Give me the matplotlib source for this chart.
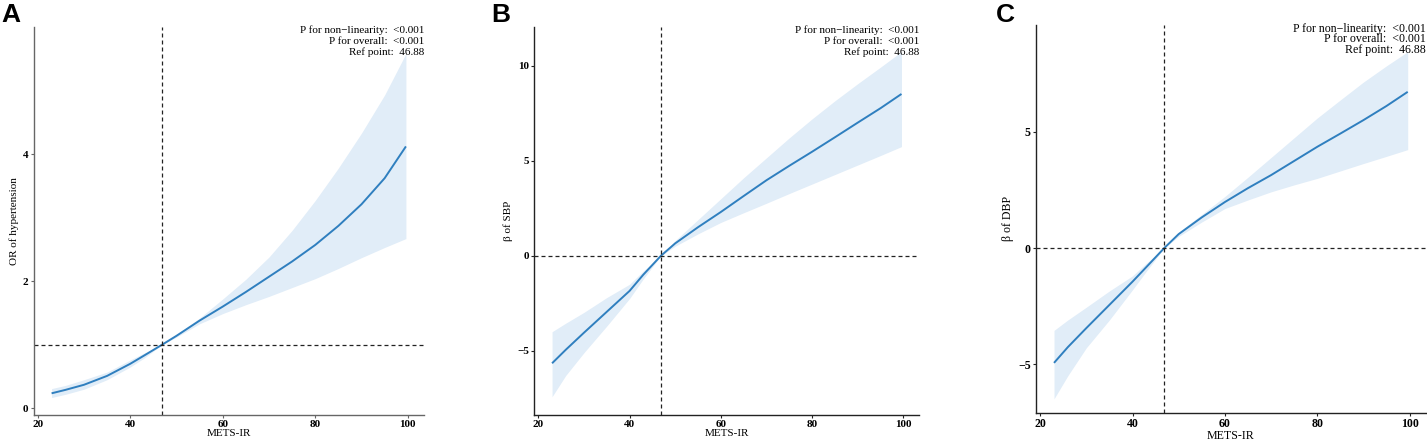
import matplotlib
import matplotlib.pyplot as plt

matplotlib.use("Agg")

# values
mets_ir = [23, 26, 30, 35, 40, 43, 46.88, 50, 55, 60, 65, 70, 75, 80, 85, 90, 95, 99.6]
ref_point = 46.88

or_fit = [0.236, 0.29, 0.37, 0.51, 0.70, 0.83, 1.0, 1.14, 1.38, 1.60, 1.83, 2.07, 2.31, 2.57, 2.87, 3.21, 3.62, 4.12]
or_upper = [0.31, 0.36, 0.45, 0.57, 0.76, 0.87, 1.0, 1.16, 1.42, 1.72, 2.03, 2.38, 2.80, 3.27, 3.78, 4.33, 4.93, 5.58]
or_lower = [0.17, 0.22, 0.30, 0.45, 0.65, 0.79, 1.0, 1.12, 1.33, 1.49, 1.63, 1.76, 1.90, 2.04, 2.20, 2.37, 2.53, 2.67]

sbp_fit = [-5.66, -4.95, -4.05, -2.95, -1.85, -1.0, 0, 0.65, 1.5, 2.3, 3.14, 3.97, 4.73, 5.47, 6.23, 7.0, 7.76, 8.51]
sbp_upper = [-4.0, -3.55, -2.98, -2.2, -1.5, -0.8, 0, 0.8, 1.9, 3.0, 4.1, 5.15, 6.2, 7.2, 8.15, 9.05, 9.92, 10.74]
sbp_lower = [-7.42, -6.3, -5.1, -3.7, -2.25, -1.22, 0, 0.5, 1.15, 1.75, 2.26, 2.76, 3.27, 3.77, 4.27, 4.77, 5.27, 5.74]

dbp_fit = [-4.95, -4.27, -3.45, -2.45, -1.45, -0.82, 0, 0.6, 1.32, 1.98, 2.58, 3.14, 3.75, 4.36, 4.93, 5.51, 6.12, 6.73]
dbp_upper = [-3.55, -3.1, -2.55, -1.85, -1.2, -0.65, 0, 0.68, 1.45, 2.22, 3.05, 3.9, 4.75, 5.6, 6.38, 7.15, 7.85, 8.46]
dbp_lower = [-6.5, -5.5, -4.3, -3.1, -1.8, -1.0, 0, 0.5, 1.12, 1.7, 2.07, 2.42, 2.72, 3.0, 3.32, 3.64, 3.95, 4.24]

stats_lines = ["P for non\u2212linearity:  <0.001", "P for overall:  <0.001", "Ref point:  46.88"]

serif = "Liberation Serif"
line_color = "#2f7fbf"
band_color = "#e1edf8"

fig = plt.figure(figsize=(14.27, 4.41), dpi=100)

panels = [
    # letter, rect, y data, hline, ylabel, yticks, ylim, fontsize, spine color, letter x
    ("A", [0.0235, 0.059, 0.2736, 0.880], (or_fit, or_lower, or_upper), 1.0,
     "OR of hypertension", [0, 2, 4], (-0.105, 6.0), 8, "#666666", 0.001),
    ("B", [0.3744, 0.059, 0.2698, 0.8805], (sbp_fit, sbp_lower, sbp_upper), 0.0,
     "\u03b2 of SBP", [-5, 0, 5, 10], (-8.38, 12.05), 8, "#222222", 0.344),
    ("C", [0.7260, 0.0640, 0.2731, 0.8793], (dbp_fit, dbp_lower, dbp_upper), 0.0,
     "\u03b2 of DBP", [-5, 0, 5], (-7.1, 9.61), 8.6, "#222222", 0.698),
]

for letter, rect, (fit, lo, hi), hval, ylab, yticks, ylim, fs, spc, lx in panels:
    ax = fig.add_axes(rect)
    ax.fill_between(mets_ir, lo, hi, color=band_color, lw=0)
    ax.plot(mets_ir, fit, color=line_color, lw=1.4, solid_capstyle="butt")
    ax.axhline(hval, color="#222222", lw=0.9, dashes=(3.2, 2.4))
    ax.axvline(ref_point, color="#222222", lw=0.9, dashes=(3.2, 2.4))

    ax.set_xlim(19.1, 103.5)
    ax.set_ylim(*ylim)
    ax.set_xticks([20, 40, 60, 80, 100])
    ax.set_yticks(yticks)
    ax.set_yticklabels([str(t).replace("-", "\u2212") for t in yticks])

    for side in ("top", "right"):
        ax.spines[side].set_visible(False)
    for side in ("left", "bottom"):
        ax.spines[side].set_color(spc)
        ax.spines[side].set_linewidth(1.0)
    ax.tick_params(length=2.5, width=0.8, color=spc, pad=1.2)
    for lab in ax.get_xticklabels() + ax.get_yticklabels():
        lab.set_fontfamily(serif)
        lab.set_fontweight("bold")
        lab.set_fontsize(fs)

    ax.set_xlabel("METS-IR", family=serif, fontsize=fs, labelpad=0)
    ax.set_ylabel(ylab, family=serif, fontsize=fs, labelpad=3)

    for i, s in enumerate(stats_lines):
        ax.text(1.0, 0.9905 - i * 0.0277, s, transform=ax.transAxes,
                ha="right", va="center", family=serif, fontsize=fs)

    fig.text(lx, 0.965, letter, family="Liberation Sans", fontweight="bold",
             fontsize=19, ha="left", va="center")

fig.savefig("out.png", dpi=100)
